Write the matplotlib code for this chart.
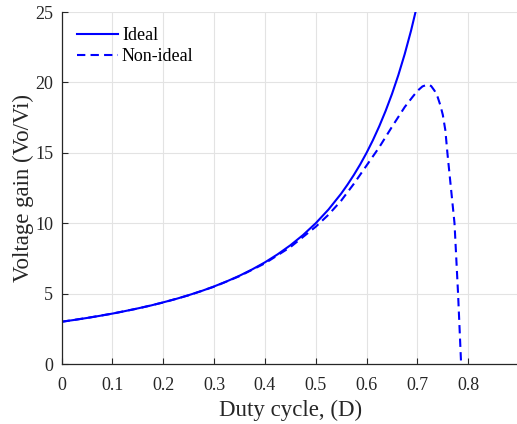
import numpy as np
import matplotlib.pyplot as plt

plt.rcParams['font.family'] = ['Liberation Serif', 'DejaVu Serif']

# duty cycle and gains
d_ideal = [0, 0.025, 0.05, 0.075, 0.1, 0.125, 0.15, 0.175, 0.2, 0.225, 0.25, 0.275,
           0.3, 0.325, 0.35, 0.375, 0.4, 0.425, 0.45, 0.475, 0.5, 0.525, 0.55, 0.5625,
           0.575, 0.5875, 0.6, 0.6125, 0.625, 0.6375, 0.65, 0.6625, 0.675, 0.6875, 0.7]
g_ideal = [3.0, 3.13, 3.27, 3.42, 3.58, 3.76, 3.95, 4.15, 4.38, 4.62, 4.89, 5.18,
           5.51, 5.87, 6.27, 6.72, 7.22, 7.79, 8.43, 9.16, 10.0, 10.97, 12.1, 12.74,
           13.43, 14.18, 15.0, 15.9, 16.89, 17.98, 19.18, 20.52, 22.01, 23.68, 25.56]

d_nonideal = [0, 0.05, 0.1, 0.15, 0.2, 0.25, 0.3, 0.35, 0.4, 0.45, 0.5, 0.525, 0.55,
              0.575, 0.6, 0.625, 0.65, 0.675, 0.69, 0.7, 0.71, 0.72, 0.727, 0.734, 0.74,
              0.745, 0.75, 0.755, 0.759, 0.766, 0.773, 0.78, 0.786]
g_nonideal = [3.0, 3.27, 3.58, 3.94, 4.37, 4.88, 5.49, 6.24, 7.15, 8.3, 9.75, 10.6, 11.6,
              12.8, 14.1, 15.4, 16.85, 18.25, 18.95, 19.4, 19.72, 19.85, 19.75, 19.4, 18.95,
              18.4, 17.7, 16.6, 15.0, 12.5, 10.0, 5.0, 0.0]

xticks = [0, 0.1, 0.2, 0.3, 0.4, 0.5, 0.6, 0.7, 0.8]
xlabels = ['0', '0.1', '0.2', '0.3', '0.4', '0.5', '0.6', '0.7', '0.8']
yticks = [0, 5, 10, 15, 20, 25]

fig = plt.figure(figsize=(5.17, 4.24), dpi=100)
ax = fig.add_axes([0.119, 0.1415, 0.885, 0.830])

ax.plot(d_ideal, g_ideal, color='#0000ff', lw=1.5, label='Ideal')
ax.plot(d_nonideal, g_nonideal, color='#0000ff', lw=1.5, dashes=(4, 2.5), label='Non-ideal')

ax.set_xlim(0, 0.9)
ax.set_ylim(0, 25)
ax.set_xticks(xticks)
ax.set_xticklabels(xlabels)
ax.set_yticks(yticks)
ax.grid(True, color='#e3e3e3', lw=0.8)
ax.set_axisbelow(True)
for s in ['top', 'right']:
    ax.spines[s].set_visible(False)
for s in ['left', 'bottom']:
    ax.spines[s].set_color('#262626')
    ax.spines[s].set_linewidth(0.9)
ax.tick_params(direction='in', length=4, colors='#262626', labelsize=13, labelcolor='#262626')
ax.tick_params(axis='x', pad=9)
ax.tick_params(axis='y', pad=6)

ax.set_xlabel('Duty cycle, (D)', fontsize=16.5, color='#262626', labelpad=4.5)
ax.set_ylabel('Voltage gain (Vo/Vi)', fontsize=16.5, color='#262626', labelpad=0.5)

ax.legend(loc='upper left', frameon=False, fontsize=13, handlelength=2.3,
          handletextpad=0.2, borderaxespad=0.45, labelspacing=0.22)

fig.savefig('out.png', dpi=100)
